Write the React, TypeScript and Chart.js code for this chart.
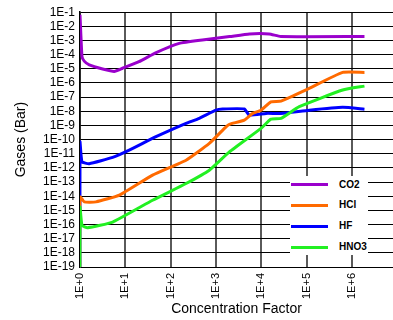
import React, { useEffect, useRef } from 'react';
import { Chart, registerables } from 'chart.js';

Chart.register(...registerables);

// Axis ticks
const xTickValues = [1, 10, 100, 1000, 1e4, 1e5, 1e6];
const xTickLabels = ['1E+0', '1E+1', '1E+2', '1E+3', '1E+4', '1E+5', '1E+6'];
const yTickValues = [1e-1, 1e-2, 1e-3, 1e-4, 1e-5, 1e-6, 1e-7, 1e-8, 1e-9, 1e-10, 1e-11, 1e-12, 1e-13, 1e-14, 1e-15, 1e-16, 1e-17, 1e-18, 1e-19];
const yTickLabels = ['1E-1', '1E-2', '1E-3', '1E-4', '1E-5', '1E-6', '1E-7', '1E-8', '1E-9', '1E-10', '1E-11', '1E-12', '1E-13', '1E-14', '1E-15', '1E-16', '1E-17', '1E-18', '1E-19'];
const xMin = 1;
const xMax = 8.1e6;
const yMin = 1e-19;
const yMax = 1e-1;

// Series
const seriesNames = ['CO2', 'HCl', 'HF', 'HNO3'];
const seriesColors = ['#9a00cc', '#ff6a00', '#0000ff', '#22f022'];

const co2X = [1, 1.107, 1.24, 1.6, 3.16, 5.7, 8.7, 20, 48, 155, 500, 2000, 5500, 15000, 27000, 1.9e6];
const co2Y = [0.065, 7.2e-5, 3.5e-5, 1.9e-5, 9.8e-6, 6.6e-6, 1.1e-5, 3.2e-5, 1.4e-4, 6.3e-4, 1.1e-3, 1.9e-3, 2.9e-3, 2.9e-3, 1.9e-3, 1.9e-3];

const hclX = [1, 1, 1.24, 2.25, 7.4, 40, 219, 715, 1670, 1980, 4240, 6460, 9900, 16400, 27300, 97500, 627000, 1.9e6];
const hclY = [1e-25, 8.9e-15, 4e-15, 4e-15, 1.2e-14, 3.1e-13, 3.5e-12, 5.4e-11, 8e-10, 1.2e-9, 2.4e-9, 7.1e-9, 1.2e-8, 4.7e-8, 5.2e-8, 3.2e-7, 5.6e-6, 5.6e-6];

const hfX = [1, 1, 1.107, 1.6, 5.25, 12.2, 47.6, 219, 430, 1000, 1400, 4240, 5460, 12800, 27300, 115000, 627000, 1.9e6];
const hfY = [1e-25, 6.9e-11, 2.7e-12, 2.0e-12, 5.5e-12, 1.8e-11, 1.6e-10, 1.4e-9, 3.2e-9, 1.2e-8, 1.45e-8, 1.45e-8, 5.4e-9, 7.1e-9, 7.1e-9, 1.2e-8, 1.9e-8, 1.4e-8];

const hno3X = [1, 1, 1.107, 1.47, 5.25, 40, 219, 715, 1980, 9900, 16400, 27300, 69000, 627000, 1.9e6];
const hno3Y = [1e-25, 1.7e-15, 8.9e-17, 6e-17, 1.5e-16, 5.2e-15, 7.9e-14, 6.9e-13, 1.35e-11, 6.2e-10, 2.8e-9, 3.2e-9, 2.1e-8, 3.2e-7, 6e-7];

const seriesX = [co2X, hclX, hfX, hno3X];
const seriesY = [co2Y, hclY, hfY, hno3Y];
const drawOrder = [3, 1, 2, 0];

const FONT = '"Liberation Sans", Arial, sans-serif';

export default function App() {
  const ref = useRef<HTMLCanvasElement | null>(null);

  useEffect(() => {
    document.body.style.margin = '0';
    const canvas = ref.current;
    if (!canvas) return;
    const datasets = seriesNames.map((name, i) => ({
      label: name,
      data: seriesX[i].map((x, j) => ({ x, y: seriesY[i][j] })),
      borderColor: seriesColors[i],
      backgroundColor: seriesColors[i],
      borderWidth: 3,
      pointRadius: 0,
      tension: 0.15,
      fill: false,
      order: drawOrder[i],
    }));
    const chart = new Chart(canvas, {
      type: 'line',
      data: { datasets },
      options: {
        animation: false,
        responsive: false,
        devicePixelRatio: 1,
        layout: { padding: { top: 12, left: 0, right: 0, bottom: 0 } },
        plugins: { legend: { display: false }, tooltip: { enabled: false } },
        scales: {
          x: {
            type: 'logarithmic',
            min: xMin,
            max: xMax,
            afterBuildTicks: (s: any) => {
              s.ticks = xTickValues.map((v) => ({ value: v }));
            },
            afterFit: (s: any) => {
              s.height = 53;
            },
            ticks: {
              autoSkip: false,
              minRotation: 90,
              maxRotation: 90,
              padding: 6,
              color: '#000',
              font: { family: FONT, size: 11 },
              callback: (v: any) => {
                const i = xTickValues.indexOf(Number(v));
                return i >= 0 ? xTickLabels[i] : '';
              },
            },
            grid: { color: '#5a5a5a', lineWidth: 2, drawTicks: false },
            border: { display: false },
            title: {
              display: true,
              text: 'Concentration Factor',
              color: '#000',
              font: { family: FONT, size: 14 },
              padding: { top: 2, bottom: 2 },
            },
          },
          y: {
            type: 'logarithmic',
            min: yMin,
            max: yMax,
            afterBuildTicks: (s: any) => {
              s.ticks = yTickValues.map((v) => ({ value: v }));
            },
            afterFit: (s: any) => {
              s.width = 80;
            },
            ticks: {
              autoSkip: false,
              padding: 5,
              color: '#000',
              font: { family: FONT, size: 12 },
              callback: (v: any) => {
                const i = yTickValues.findIndex((t) => Math.abs(Math.log10(t) - Math.log10(Number(v))) < 1e-6);
                return i >= 0 ? yTickLabels[i] : '';
              },
            },
            grid: { color: '#000', lineWidth: 1, drawTicks: false },
            border: { display: true, color: '#000', width: 1.5 },
            title: {
              display: true,
              text: 'Gases (Bar)',
              color: '#000',
              font: { family: FONT, size: 14 },
              padding: { top: 13, bottom: 13 },
            },
          },
        },
      } as any,
    });
    return () => chart.destroy();
  }, []);

  const rowTops = [8.7, 29, 50, 71];
  return (
    <div style={{ position: 'relative', width: 393, height: 320 }}>
      <canvas ref={ref} width={393} height={320} style={{ display: 'block', width: 393, height: 320 }} />
      <div
        style={{
          position: 'absolute',
          left: 290,
          top: 176,
          width: 78,
          height: 79,
          background: '#fff',
        }}
      >
        {seriesNames.map((name, i) => (
          <div key={name}>
            <div
              style={{
                position: 'absolute',
                left: 1,
                top: rowTops[i] - 1.5,
                width: 37,
                height: 3,
                background: seriesColors[i],
              }}
            />
            <div
              style={{
                position: 'absolute',
                left: 49,
                top: rowTops[i] - 7,
                height: 14,
                lineHeight: '14px',
                fontFamily: FONT,
                fontWeight: 'bold',
                fontSize: 10,
                color: '#000',
                whiteSpace: 'nowrap',
              }}
            >
              {name}
            </div>
          </div>
        ))}
      </div>
    </div>
  );
}
